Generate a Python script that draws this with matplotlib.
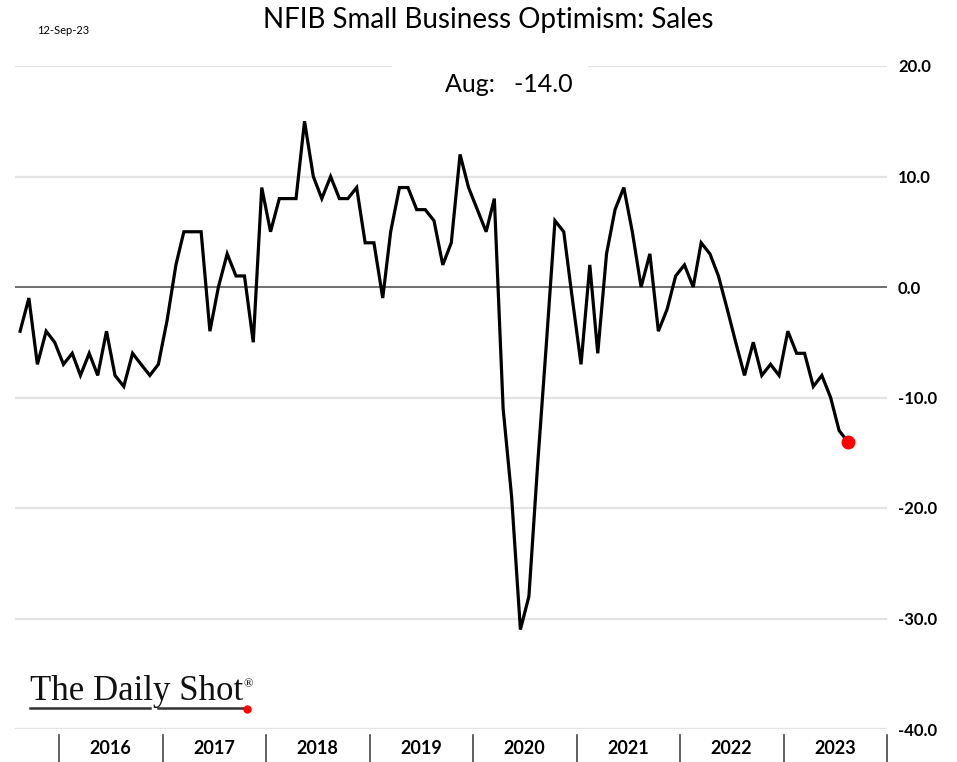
import matplotlib.pyplot as plt
import matplotlib.transforms as mtransforms
import pandas as pd

# NFIB sales, monthly Aug 2015 .. Aug 2023
sales = [-4, -1, -7, -4, -5, -7, -6, -8, -6, -8, -4, -8, -9, -6, -7, -8,
         -7, -3, 2, 5, 5, 5, -4, 0, 3, 1, 1, -5, 9, 5, 8, 8,
         8, 15, 10, 8, 10, 8, 8, 9, 4, 4, -1, 5, 9, 9, 7, 7,
         6, 2, 4, 12, 9, 7, 5, 8, -11, -19, -31, -28, -16, -5, 6, 5,
         -1, -7, 2, -6, 3, 7, 9, 5, 0, 3, -4, -2, 1, 2, 0, 4,
         3, 1, -2, -5, -8, -5, -8, -7, -8, -4, -6, -6, -9, -8, -10, -13,
         -14]
dates = pd.date_range('2015-08-01', periods=len(sales), freq='MS') + pd.Timedelta(days=15)
years = list(range(2016, 2024))
yticks = [20, 10, 0, -10, -20, -30, -40]

plt.rcParams['font.family'] = ['Lato', 'DejaVu Sans']

fig = plt.figure(figsize=(9.57, 7.62), dpi=100)
ax = fig.add_axes([15/957, 1-729/762, (887-15)/957, (729-66)/762])

ax.plot(dates, sales, color='black', lw=2.3, solid_joinstyle='miter', zorder=3)
ax.plot(dates[-1], sales[-1], 'o', color='#ff0000', ms=9, zorder=4)

ax.set_xlim(pd.Timestamp('2015-07-29'), pd.Timestamp('2024-01-01'))
ax.set_ylim(-40, 20)
ax.set_yticks(yticks)
ax.set_yticklabels(['%.1f' % v for v in yticks], fontweight='bold', fontsize=12)
ax.yaxis.tick_right()
ax.tick_params(axis='y', length=0, pad=8)
ax.set_xticks([])
for s in ax.spines.values():
    s.set_visible(False)
for v in yticks:
    if v == 0:
        ax.axhline(0, color='#555555', lw=1.2, zorder=2)
    elif v == 20:
        # top gridline is broken around the latest-value label
        ax.axhline(v, xmax=(391-15)/872, color='#e3e3e3', lw=1.6, zorder=1)
        ax.axhline(v, xmin=(589-15)/872, color='#e3e3e3', lw=1.6, zorder=1)
    else:
        ax.axhline(v, color='#e3e3e3', lw=1.6, zorder=1)

# year labels + separators below the plot
tr = mtransforms.blended_transform_factory(ax.transData, ax.transAxes)
for y in years + [2024]:
    d = pd.Timestamp(f'{y}-01-01')
    ax.plot([d, d], [-0.009, -0.05], color='#444444', lw=1.2, transform=tr, clip_on=False)
for y in years:
    mid = pd.Timestamp(f'{y}-07-01')
    ax.text(mid, -0.029, str(y), transform=tr, ha='center', va='center',
            fontsize=13, fontweight='bold')

# title and notes
fig.text(488/957, 1-20/762, 'NFIB Small Business Optimism: Sales', ha='center', va='center',
         fontsize=20)
fig.text(37/957, 1-31/762, '12-Sep-23', ha='left', va='center', fontsize=8)
ax.text((509-15)/872, 1-(85-66)/663, 'Aug:   -14.0', transform=ax.transAxes, ha='center', va='center',
        fontsize=18, zorder=5)

# logo
fig.text(30/957, 1-700/762, 'The Daily Shot', family='Liberation Serif', fontsize=25,
         ha='left', va='baseline', color='#111111')
fig.text(243/957, 1-684/762, '®', family='Liberation Serif', fontsize=9, ha='left', va='center')
fig.add_artist(plt.Line2D([30/957, 150/957], [1-708/762]*2, color='#333333', lw=1.8))
fig.add_artist(plt.Line2D([158/957, 245/957], [1-708/762]*2, color='#333333', lw=1.8))
fig.add_artist(plt.Line2D([247/957], [1-709/762], marker='o', color='#ff0000', ms=5))

fig.savefig('out.png', dpi=100)
